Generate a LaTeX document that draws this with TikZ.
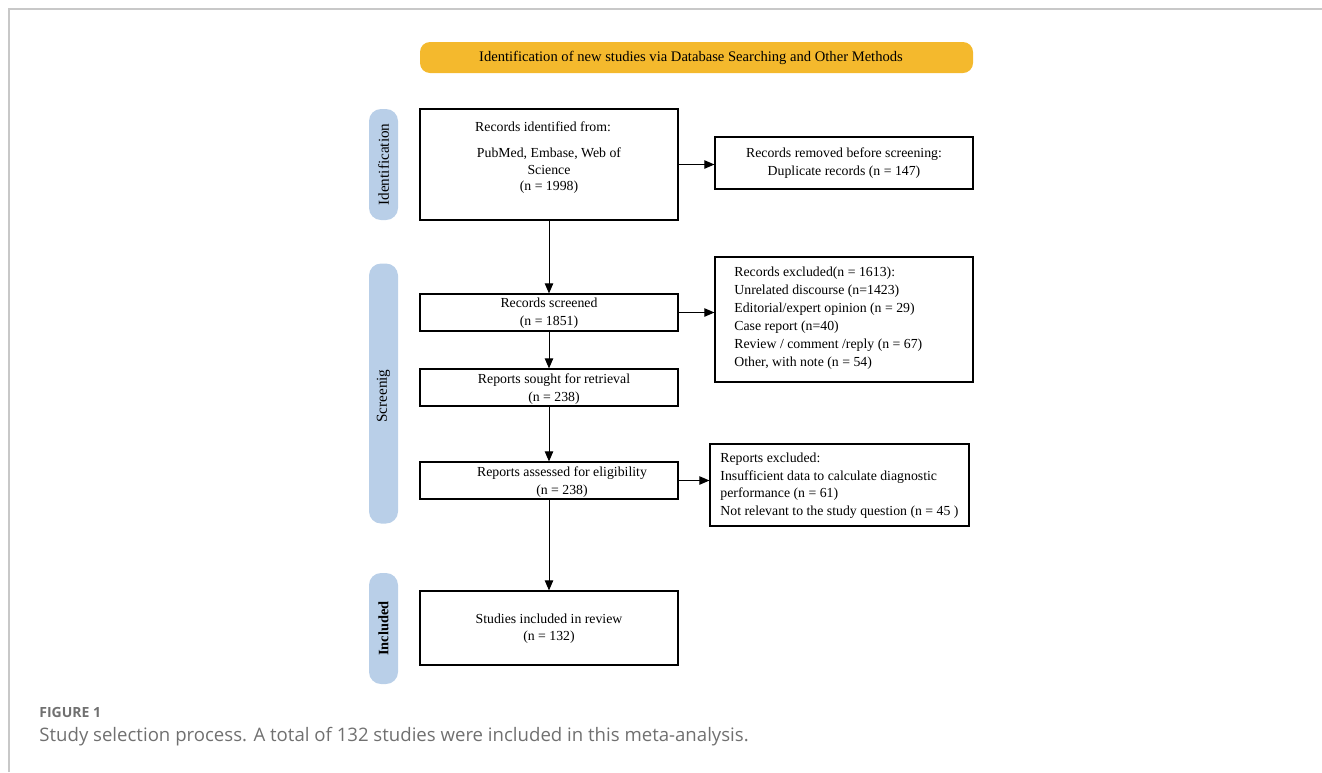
\documentclass[tikz,border=0pt]{standalone}
\usepackage{fontspec}
\setmainfont{Liberation Serif}
\newfontfamily\capfont{Open Sans}
\usetikzlibrary{arrows.meta}
\definecolor{bannerc}{HTML}{F4B92D}
\definecolor{pillc}{HTML}{B9CFE8}
\definecolor{framec}{HTML}{C8C8C8}
\definecolor{capc}{HTML}{707070}
\tikzset{
  fbox/.style={draw=black, line width=0.6pt, inner sep=0pt, minimum width=129pt},
  txt/.style={inner sep=0pt, font=\fontsize{6.9}{9}\selectfont},
  pill/.style={fill=pillc, rounded corners=6pt, inner sep=0pt, minimum width=14.5pt},
  plabel/.style={inner sep=0pt, rotate=90, font=\fontsize{7.6}{9}\selectfont},
  arr/.style={-{Triangle[length=5pt,width=4.2pt]}, line width=0.5pt},
}
\begin{document}
\begin{tikzpicture}[x=0.5pt,y=-0.5pt]
\useasboundingbox (0,0) rectangle (1322,772);
% frame
\draw[framec, line width=0.6pt] (9,772) coordinate (fb) -- (9,9) coordinate (fc) -- (1322,9) coordinate (fr);
% banner
\node[fill=bannerc, rounded corners=5pt, minimum width=276.5pt, minimum height=15.5pt, inner sep=0pt] (banner) at (696.5,57.5) {};
\node[txt, font=\fontsize{7.3}{9}\selectfont] (bannert) at (691,57.5) {Identification of new studies via Database Searching and Other Methods};
% side pills
\node[pill, minimum height=55.5pt] (pid) at (383.5,164.5) {};
\node[plabel] (pidt) at (383.5,164.5) {Identification};
\node[pill, minimum height=130pt] (psc) at (383.5,393.5) {};
\node[plabel] (psct) at (383.5,396) {Screenig};
\node[pill, minimum height=55.5pt] (pin) at (383.5,628.5) {};
\node[plabel, font=\fontsize{7.2}{9}\selectfont\bfseries] (pint) at (383.5,628.5) {Included};
% boxes
\node[fbox, minimum height=55.5pt] (b1) at (549,164.5) {};
\node[fbox, minimum height=26pt] (brem) at (844,163) {};
\node[fbox, minimum height=18.5pt] (bscr) at (549,312.5) {};
\node[fbox, minimum height=62.5pt] (bexc) at (844,319.5) {};
\node[fbox, minimum height=18.5pt] (bsou) at (549,387.5) {};
\node[fbox, minimum height=18.5pt] (bass) at (549,480.5) {};
\node[fbox, minimum height=41pt, minimum width=129.5pt] (brep) at (839.5,485) {};
\node[fbox, minimum height=37pt] (binc) at (549,628) {};
% texts
\node[txt, align=center, font=\fontsize{6.9}{8.3}\selectfont] (t1) at (549,158) {\hspace*{-6pt}Records identified from:\\[4.7pt]PubMed, Embase, Web of\\Science\\(n = 1998)};
\node[txt, align=center] (trem) at (844,163) {Records removed before screening:\\Duplicate records (n = 147)};
\node[txt, align=center] (tscr) at (549,313) {Records screened\\(n = 1851)};
\node[txt, align=left, anchor=west] (texc) at (734,318) {Records excluded(n = 1613):\\Unrelated discourse (n=1423)\\Editorial/expert opinion (n = 29)\\Case report (n=40)\\Review / comment /reply (n = 67)\\Other, with note (n = 54)};
\node[txt, align=center] (tsou) at (554,389) {Reports sought for retrieval\\(n = 238)};
\node[txt, align=center] (tass) at (562,482) {Reports assessed for eligibility\\(n = 238)};
\node[txt, align=left, anchor=west, font=\fontsize{6.9}{8.8}\selectfont] (trep) at (720,485.5) {Reports excluded:\\Insufficient data to calculate diagnostic\\performance (n = 61)\\Not relevant to the study question (n = 45 )};
\node[txt, align=center, font=\fontsize{6.9}{8.5}\selectfont] (tinc) at (549,628.5) {Studies included in review\\(n = 132)};
% arrows
\draw[arr] (b1.south) -- (bscr.north);
\draw[arr] (bscr.south) -- (bsou.north);
\draw[arr] (bsou.south) -- (bass.north);
\draw[arr] (bass.south) -- (binc.north);
\draw[arr] (b1.east) -- (b1.east -| brem.west);
\draw[arr] (bscr.east) -- (bscr.east -| bexc.west);
\draw[arr] (bass.east) -- (bass.east -| brep.west);
% caption
\node[inner sep=0pt, anchor=base west, text=capc, font=\capfont\fontsize{7}{8}\selectfont\bfseries] (fig) at (39,717) {FIGURE 1};
\node[inner sep=0pt, anchor=base west, text=capc, font=\capfont\fontsize{9.3}{11}\selectfont] (cap) at (39,741) {Study selection process. A total of 132 studies were included in this meta-analysis.};
\end{tikzpicture}
\end{document}
